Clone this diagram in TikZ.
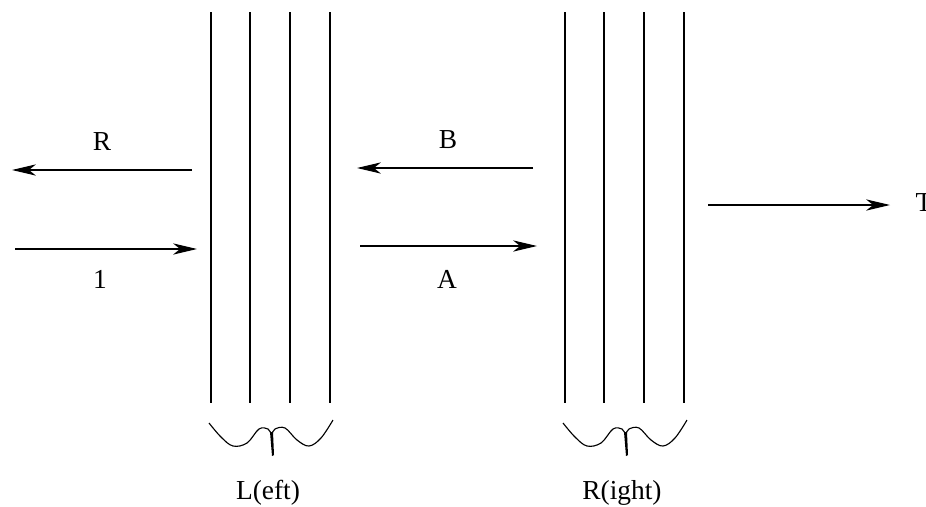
\documentclass[tikz,border=0pt]{standalone}
\usepackage{fontspec}
\setmainfont{Liberation Serif}
\usetikzlibrary{arrows.meta}

\begin{document}
\begin{tikzpicture}[x=0.025cm, y=-0.025cm,
  wall/.style={line width=0.8pt},
  arr/.style={-{Stealth[length=17pt, width=8pt, inset=5pt]}, line width=0.8pt},
  lbl/.style={font=\fontsize{19.5}{22}\selectfont}
]
  \useasboundingbox (0,0) rectangle (926,506);

  % the two stacks of plates
  \foreach \x in {211,250,290,330,565,604,644,684}
    \draw[wall] (\x,12) -- (\x,403);

  % wavy ends under each stack
  \foreach \c in {271,625} {
    \draw[line width=0.8pt] plot[smooth, tension=0.6] coordinates {
      (\c-62,423) (\c-50,437) (\c-38,446) (\c-24,443) (\c-12,429) (\c-3,429) (\c,434)};
    \draw[line width=0.8pt] plot[smooth, tension=0.6] coordinates {
      (\c+1,434) (\c+4,429) (\c+14,428) (\c+26,440) (\c+38,446) (\c+50,438) (\c+62,420)};
    \fill (\c-1,432) -- (\c+2,432) -- (\c+3,455) -- (\c+1,456) -- cycle;
  }

  % arrow ends
  \coordinate (r0) at (192,170);  \coordinate (r1) at (12,170);
  \coordinate (i0) at (15,249);   \coordinate (i1) at (197,249);
  \coordinate (b0) at (533,168);  \coordinate (b1) at (357,168);
  \coordinate (a0) at (360,246);  \coordinate (a1) at (537,246);
  \coordinate (t0) at (708,205);  \coordinate (t1) at (890,205);

  \draw[arr] (r0) -- (r1);
  \draw[arr] (i0) -- (i1);
  \draw[arr] (b0) -- (b1);
  \draw[arr] (a0) -- (a1);
  \draw[arr] (t0) -- (t1);

  \node[lbl] (lR) at (102,142) {R};
  \node[lbl] (l1) at (100,279) {1};
  \node[lbl] (lB) at (448,140) {B};
  \node[lbl] (lA) at (447,279) {A};
  \node[lbl] (lT) at (924,203) {T};
  \node[lbl] (lL) at (268,493) {L(eft)};
  \node[lbl] (lRt) at (622,493) {R(ight)};
\end{tikzpicture}
\end{document}
